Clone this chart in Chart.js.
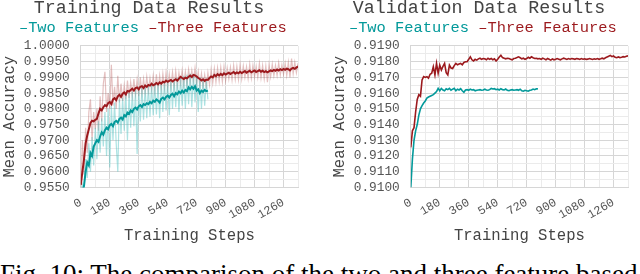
<!DOCTYPE html>
<html>
<head>
<meta charset="utf-8">
<script src="https://cdn.jsdelivr.net/npm/chart.js@4"></script>
<style>
  html,body{margin:0;padding:0;background:#fff;}
  body{width:640px;height:274px;overflow:hidden;position:relative;}
  canvas{position:absolute;top:-3px;}
  #cap{position:absolute;left:0;top:261px;font-family:'Liberation Serif','Times New Roman',serif;font-size:27px;line-height:27px;white-space:nowrap;color:#000;}
</style>
</head>
<body>
<canvas id="left" width="320" height="252" style="left:0"></canvas>
<canvas id="right" width="320" height="252" style="left:330px"></canvas>
<div id="cap">Fig. 10: The comparison of the two and three feature based</div>
<script>
// ---------- data (sampled every 10 training steps) ----------
const STEP = 10;
const seriesNames = ['Two Features', 'Three Features'];
const chartTitles = ['Training Data Results', 'Validation Data Results'];
const xTitle = 'Training Steps';
const yTitle = 'Mean Accuracy';

// Training: smoothed Three Features (0..1350)
const trainThreeSmooth = [
 .9558,.9600,.9640,.9690,.9715,.9735,.9755,.9762,.9760,.9765,
 .9768,.9785,.9800,.9795,.9805,.9812,.9808,.9818,.9822,.9815,
 .9830,.9834,.9828,.9840,.9845,.9838,.9848,.9852,.9846,.9857,
 .9855,.9860,.9864,.9858,.9866,.9868,.9862,.9870,.9872,.9866,
 .9874,.9870,.9876,.9874,.9880,.9875,.9878,.9882,.9878,.9884,
 .9880,.9886,.9884,.9890,.9886,.9889,.9892,.9887,.9891,.9894,
 .9890,.9896,.9902,.9898,.9895,.9899,.9897,.9902,.9906,.9901,
 .9908,.9906,.9903,.9898,.9895,.9890,.9894,.9889,.9893,.9892,
 .9898,.9903,.9900,.9908,.9904,.9910,.9906,.9911,.9907,.9913,
 .9909,.9912,.9915,.9911,.9914,.9917,.9912,.9916,.9913,.9918,
 .9914,.9917,.9920,.9915,.9918,.9921,.9916,.9919,.9922,.9917,
 .9920,.9923,.9918,.9921,.9917,.9920,.9916,.9919,.9922,.9920,
 .9924,.9921,.9925,.9922,.9926,.9923,.9927,.9924,.9928,.9926,
 .9922,.9928,.9930,.9927,.9931,.9935];
// Training: raw Three Features
const trainThreeRaw = [
 .9550,.9700,.9590,.9740,.9660,.9790,.9830,.9700,.9790,.9735,
 .9800,.9730,.9840,.9760,.9880,.9918,.9790,.9850,.9800,.9940,
 .9810,.9870,.9800,.9905,.9820,.9880,.9825,.9875,.9830,.9890,
 .9835,.9885,.9840,.9895,.9845,.9893,.9840,.9900,.9848,.9895,
 .9852,.9902,.9855,.9898,.9860,.9905,.9858,.9910,.9860,.9906,
 .9862,.9912,.9865,.9915,.9866,.9910,.9870,.9916,.9868,.9920,
 .9872,.9915,.9880,.9922,.9878,.9918,.9876,.9925,.9884,.9922,
 .9886,.9930,.9880,.9918,.9872,.9912,.9870,.9908,.9868,.9915,
 .9876,.9925,.9882,.9928,.9885,.9930,.9888,.9932,.9886,.9934,
 .9890,.9930,.9895,.9932,.9892,.9938,.9894,.9935,.9893,.9940,
 .9895,.9936,.9900,.9934,.9896,.9942,.9898,.9938,.9902,.9935,
 .9900,.9944,.9898,.9938,.9895,.9936,.9885,.9940,.9902,.9942,
 .9905,.9938,.9906,.9946,.9908,.9940,.9910,.9945,.9906,.9948,
 .9900,.9960,.9912,.9948,.9915,.9945];
// Training: smoothed Two Features (0..790)
const trainTwoSmooth = [
 .9520,.9535,.9555,.9600,.9630,.9620,.9660,.9650,.9680,.9690,
 .9700,.9695,.9712,.9725,.9718,.9732,.9740,.9735,.9748,.9752,
 .9745,.9758,.9762,.9756,.9768,.9772,.9766,.9780,.9776,.9788,
 .9784,.9795,.9790,.9800,.9804,.9798,.9808,.9812,.9806,.9815,
 .9812,.9818,.9815,.9822,.9818,.9826,.9822,.9830,.9826,.9820,
 .9832,.9836,.9830,.9838,.9842,.9836,.9844,.9848,.9840,.9850,
 .9846,.9855,.9850,.9858,.9852,.9860,.9856,.9868,.9862,.9870,
 .9864,.9872,.9858,.9862,.9850,.9858,.9854,.9860,.9856,.9858];
// Training: raw Two Features
const trainTwoRaw = [
 .9530,.9560,.9540,.9640,.9580,.9690,.9600,.9710,.9620,.9740,
 .9640,.9760,.9660,.9770,.9680,.9790,.9650,.9800,.9613,.9810,
 .9700,.9820,.9690,.9600,.9830,.9720,.9835,.9730,.9845,.9700,
 .9850,.9740,.9855,.9745,.9860,.9656,.9862,.9760,.9868,.9765,
 .9870,.9770,.9872,.9775,.9876,.9780,.9878,.9782,.9880,.9770,
 .9884,.9790,.9886,.9795,.9888,.9780,.9892,.9800,.9895,.9805,
 .9898,.9790,.9902,.9810,.9905,.9800,.9908,.9815,.9912,.9805,
 .9910,.9820,.9905,.9790,.9900,.9800,.9895,.9810,.9890,.9830];
// Validation: Three Features (0..1350)
const valThree = [
 .91254,.91360,.91380,.91480,.91560,.91590,.91580,.91684,.91705,.91700,
 .91705,.91695,.91720,.91726,.91768,.91716,.91789,.91726,.91778,.91747,
 .91770,.91789,.91730,.91716,.91778,.91760,.91757,.91775,.91789,.91780,
 .91785,.91789,.91780,.91795,.91800,.91800,.91815,.91831,.91812,.91805,
 .91815,.91810,.91818,.91822,.91815,.91820,.91818,.91812,.91822,.91815,
 .91820,.91812,.91818,.91804,.91815,.91830,.91841,.91826,.91822,.91818,
 .91822,.91820,.91816,.91812,.91820,.91822,.91826,.91831,.91825,.91818,
 .91822,.91815,.91820,.91828,.91822,.91831,.91825,.91820,.91822,.91818,
 .91820,.91815,.91822,.91818,.91812,.91820,.91815,.91810,.91818,.91812,
 .91815,.91820,.91816,.91812,.91818,.91822,.91818,.91814,.91820,.91816,
 .91820,.91818,.91815,.91820,.91818,.91814,.91820,.91816,.91818,.91815,
 .91816,.91820,.91817,.91814,.91818,.91816,.91820,.91815,.91818,.91822,
 .91818,.91825,.91830,.91835,.91840,.91832,.91836,.91828,.91825,.91830,
 .91826,.91828,.91832,.91830,.91834,.91837];
// Validation: Two Features (0..790)
const valTwo = [
 .91000,.91180,.91300,.91360,.91400,.91460,.91500,.91520,.91537,.91550,
 .91568,.91575,.91580,.91585,.91590,.91600,.91610,.91630,.91615,.91630,
 .91620,.91615,.91628,.91622,.91630,.91618,.91625,.91630,.91615,.91625,
 .91620,.91628,.91615,.91605,.91620,.91622,.91618,.91625,.91620,.91622,
 .91615,.91618,.91620,.91622,.91618,.91620,.91625,.91620,.91618,.91622,
 .91630,.91626,.91628,.91622,.91625,.91620,.91628,.91622,.91620,.91626,
 .91618,.91615,.91620,.91622,.91618,.91620,.91622,.91618,.91625,.91615,
 .91612,.91618,.91615,.91612,.91618,.91620,.91626,.91622,.91628,.91627];

// axis ranges / ticks
const xRange = [0, 1350], xMinorStep = 90;
const yRangeTrain = [0.955, 1.0], yMinorTrain = 0.0025;
const yRangeVal = [0.910, 0.919], yMinorVal = 0.0005;

// ---------- styling ----------
const RED = '#9c1a1e', TEAL = '#03999a';
const RED_RAW = 'rgba(176,70,70,0.34)', TEAL_RAW = 'rgba(70,190,190,0.45)';
const MONO = "'Courier New','Liberation Mono',monospace";

const pts = vals => vals.map((v, i) => ({x: i * STEP, y: v}));

function makeOptions(title, yr, ystep) {
  const gridCol = ctx => (ctx.index % 2 === 0 ? '#d6d6d6' : '#ebebeb');
  return {
    responsive: false,
    animation: false,
    events: [],
    layout: {padding: {left: 0, right: 22, top: 0, bottom: 4}},
    plugins: {
      tooltip: {enabled: false},
      title: {
        display: true, text: title, color: '#444',
        font: {family: MONO, size: 18.3, weight: 'normal'},
        padding: {top: 0, bottom: 0}
      },
      legend: {
        display: true,
        labels: {
          boxWidth: 0, boxHeight: 0, padding: 1.6,
          font: {family: MONO, size: 15.4},
          generateLabels: () => [
            {text: '\u2013' + seriesNames[0], fontColor: TEAL, fillStyle: 'rgba(0,0,0,0)', strokeStyle: 'rgba(0,0,0,0)', lineWidth: 0, hidden: false, datasetIndex: 1},
            {text: '\u2013' + seriesNames[1], fontColor: RED, fillStyle: 'rgba(0,0,0,0)', strokeStyle: 'rgba(0,0,0,0)', lineWidth: 0, hidden: false, datasetIndex: 0}
          ]
        }
      }
    },
    scales: {
      x: {
        type: 'linear', min: xRange[0], max: xRange[1],
        ticks: {
          stepSize: xMinorStep, autoSkip: false, minRotation: 30, maxRotation: 30,
          color: '#555', font: {family: MONO, size: 12}, padding: 2,
          callback: (v, i) => (i % 2 === 0 ? String(v) : '')
        },
        grid: {color: gridCol, lineWidth: 1, tickColor: 'rgba(0,0,0,0)', tickLength: 6},
        border: {display: true, color: '#d6d6d6'},
        title: {display: true, text: xTitle, color: '#444', font: {family: MONO, size: 15.6}, padding: {top: 2, bottom: 0}}
      },
      y: {
        min: yr[0], max: yr[1],
        ticks: {
          stepSize: ystep, autoSkip: false,
          color: '#555', font: {family: MONO, size: 12.8}, padding: 3,
          callback: (v, i) => (i % 2 === 0 ? v.toFixed(4) : '')
        },
        grid: {color: gridCol, lineWidth: 1, tickColor: 'rgba(0,0,0,0)', tickLength: 8},
        border: {display: true, color: '#d6d6d6'},
        title: {display: true, text: yTitle, color: '#444', font: {family: MONO, size: 15.6}, padding: {top: 0, bottom: 2}}
      }
    }
  };
}

const lineDs = (label, data, color, w) => ({
  label, data: pts(data), borderColor: color, backgroundColor: color,
  borderWidth: w, pointRadius: 0, tension: 0, fill: false
});

new Chart(document.getElementById('left'), {
  type: 'line',
  data: {datasets: [
    lineDs(seriesNames[1], trainThreeSmooth, RED, 2),
    lineDs(seriesNames[0], trainTwoSmooth, TEAL, 2),
    lineDs(seriesNames[0] + ' raw', trainTwoRaw, TEAL_RAW, 1.2),
    lineDs(seriesNames[1] + ' raw', trainThreeRaw, RED_RAW, 1.2)
  ]},
  options: makeOptions(chartTitles[0], yRangeTrain, yMinorTrain)
});

new Chart(document.getElementById('right'), {
  type: 'line',
  data: {datasets: [
    lineDs(seriesNames[1], valThree, RED, 1.6),
    lineDs(seriesNames[0], valTwo, TEAL, 1.6)
  ]},
  options: makeOptions(chartTitles[1], yRangeVal, yMinorVal)
});
</script>
</body>
</html>
